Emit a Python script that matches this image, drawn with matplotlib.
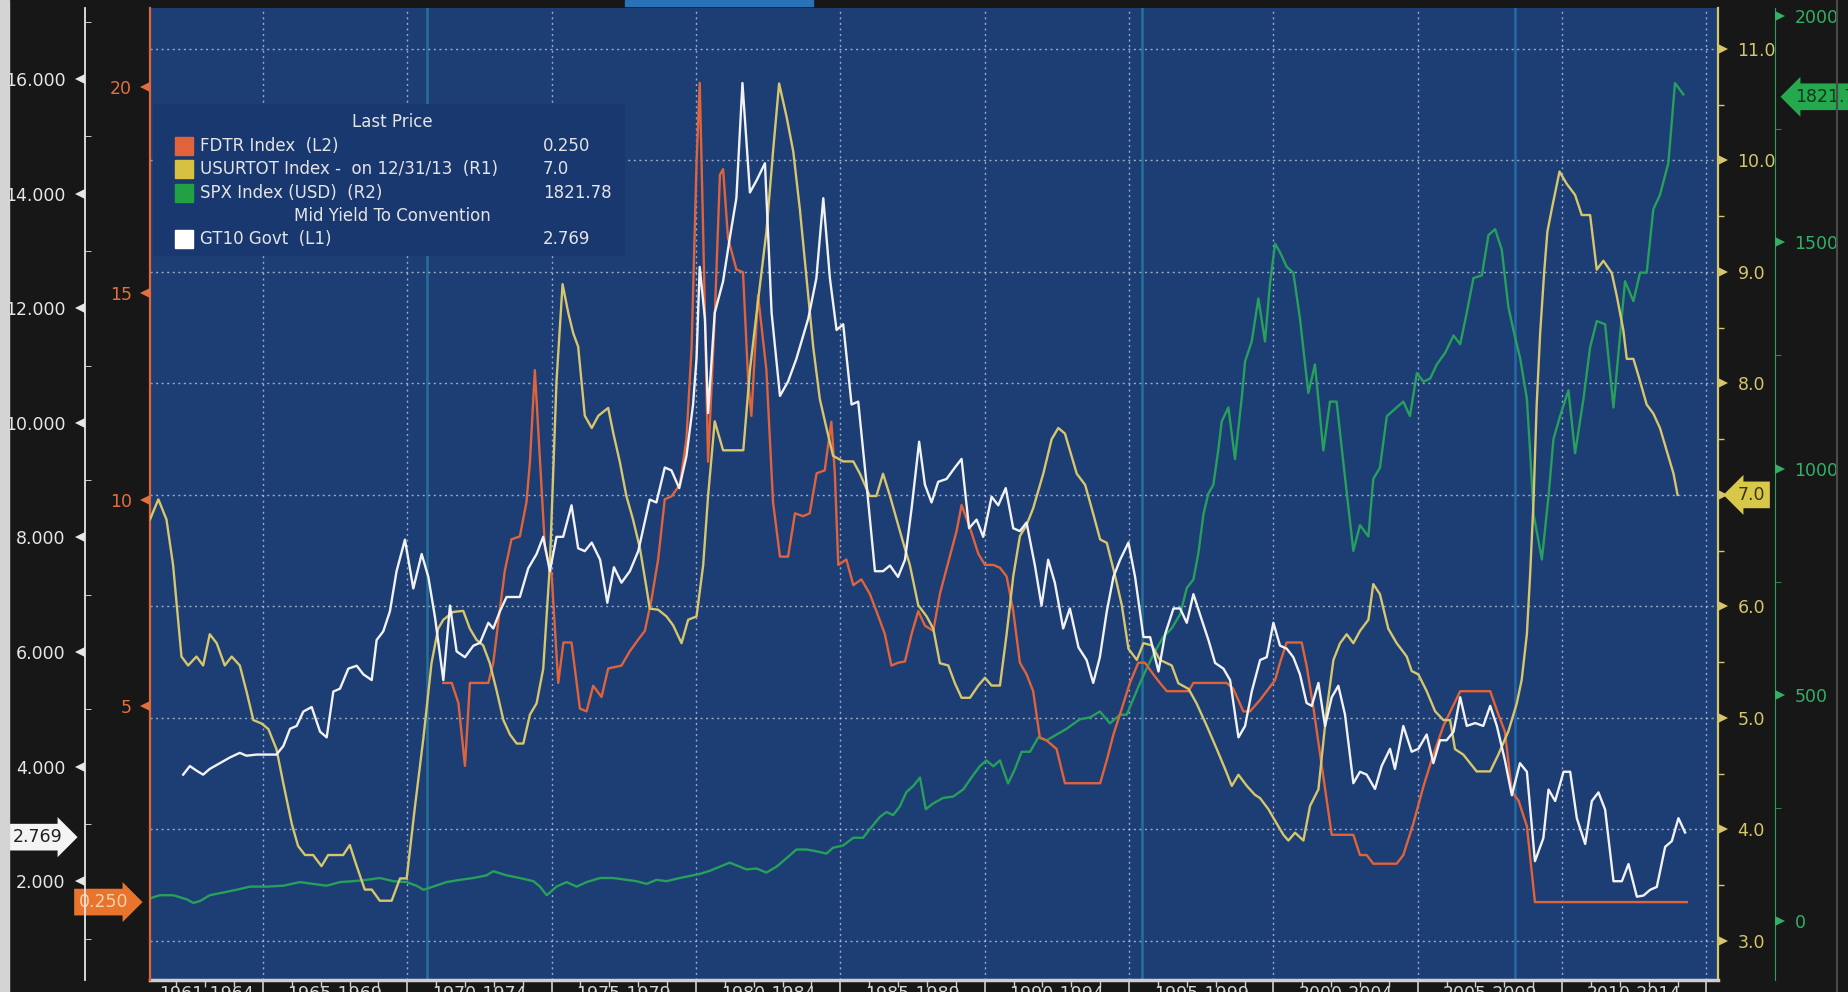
import matplotlib
matplotlib.use("Agg")
import matplotlib.pyplot as plt
from matplotlib.patches import Rectangle
from matplotlib.lines import Line2D
from matplotlib.transforms import blended_transform_factory as blend

# --- values (dates as decimal years) ---
fdtr_years = [1971.25, 1971.54, 1971.77, 1972.00, 1972.17, 1972.81, 1972.98, 1973.15, 1973.38, 1973.61,
              1973.90, 1974.13, 1974.25, 1974.42, 1974.60, 1974.77, 1975.00, 1975.23, 1975.41, 1975.69,
              1975.98, 1976.21, 1976.44, 1976.73, 1976.96, 1977.42, 1977.71, 1978.00, 1978.23, 1978.46,
              1978.69, 1978.92, 1979.15, 1979.44, 1979.67, 1979.85, 1980.02, 1980.13, 1980.25, 1980.42,
              1980.65, 1980.83, 1980.94, 1981.11, 1981.40, 1981.63, 1981.81, 1981.92, 1982.15, 1982.44,
              1982.67, 1982.91, 1983.19, 1983.43, 1983.71, 1983.94, 1984.18, 1984.46, 1984.69, 1984.81,
              1984.93, 1985.21, 1985.45, 1985.73, 1986.02, 1986.25, 1986.54, 1986.77, 1987.00, 1987.24,
              1987.47, 1987.70, 1987.93, 1988.22, 1988.45, 1988.74, 1989.03, 1989.20, 1989.49, 1989.78,
              1990.01, 1990.30, 1990.53, 1990.76, 1990.99, 1991.22, 1991.45, 1991.68, 1991.91, 1992.14,
              1992.49, 1992.78, 1994.00, 1994.23, 1994.46, 1994.75, 1995.03, 1995.32, 1995.55, 1995.84,
              1996.07, 1996.31, 1997.06, 1997.23, 1998.38, 1998.61, 1998.96, 1999.19, 1999.54, 1999.83,
              2000.06, 2000.23, 2000.46, 2000.98, 2001.15, 2001.39, 2001.62, 2001.85, 2002.02, 2002.77,
              2003.00, 2003.23, 2003.46, 2004.27, 2004.50, 2004.85, 2005.20, 2005.54, 2005.89, 2006.18,
              2006.47, 2007.51, 2007.79, 2008.02, 2008.26, 2008.49, 2008.78, 2009.06, 2014.32]
fdtr_rate = [5.56, 5.56, 5.08, 3.55, 5.56, 5.56, 6.05, 7.02, 8.28, 9.04,
             9.11, 9.94, 10.92, 13.14, 10.92, 8.83, 8.20, 5.56, 6.54, 6.54,
             4.94, 4.87, 5.49, 5.22, 5.91, 5.98, 6.33, 6.61, 6.82, 7.58,
             8.55, 10.01, 10.08, 10.36, 11.47, 13.70, 18.15, 20.10, 16.48, 10.92,
             14.40, 17.87, 18.01, 16.34, 15.58, 15.51, 12.87, 12.03, 14.95, 13.14,
             9.94, 8.62, 8.62, 9.67, 9.60, 9.67, 10.64, 10.71, 11.89, 10.64,
             8.42, 8.55, 7.93, 8.07, 7.72, 7.30, 6.75, 5.98, 6.05, 6.08,
             6.75, 7.30, 6.95, 6.82, 7.72, 8.49, 9.25, 9.87, 9.32, 8.69,
             8.42, 8.42, 8.35, 8.14, 7.30, 6.05, 5.77, 5.36, 4.24, 4.17,
             3.96, 3.13, 3.13, 3.69, 4.31, 4.94, 5.56, 6.05, 6.05, 5.77,
             5.56, 5.36, 5.36, 5.56, 5.56, 5.42, 4.87, 4.87, 5.15, 5.42,
             5.63, 6.05, 6.54, 6.54, 5.98, 4.94, 3.82, 2.71, 1.88, 1.88,
             1.39, 1.39, 1.18, 1.18, 1.39, 2.16, 3.06, 3.82, 4.52, 4.94,
             5.36, 5.36, 4.80, 4.38, 2.92, 2.71, 2.09, 0.25, 0.25]

unemp_years = [1961.09, 1961.38, 1961.66, 1961.89, 1962.18, 1962.41, 1962.70, 1962.93, 1963.16, 1963.40,
               1963.68, 1963.92, 1964.20, 1964.43, 1964.67, 1964.95, 1965.19, 1965.47, 1965.71, 1966.00,
               1966.22, 1966.46, 1966.74, 1967.03, 1967.26, 1967.55, 1967.78, 1968.01, 1968.25, 1968.53,
               1968.77, 1969.05, 1969.46, 1969.75, 1969.98, 1970.27, 1970.56, 1970.84, 1971.07, 1971.25,
               1971.59, 1971.94, 1972.17, 1972.40, 1972.63, 1972.86, 1973.10, 1973.33, 1973.56, 1973.79,
               1974.02, 1974.25, 1974.48, 1974.71, 1974.94, 1975.17, 1975.38, 1975.58, 1975.75, 1975.92,
               1976.15, 1976.39, 1976.62, 1976.96, 1977.14, 1977.36, 1977.59, 1977.82, 1978.06, 1978.29,
               1978.40, 1978.69, 1978.98, 1979.21, 1979.50, 1979.73, 1980.02, 1980.25, 1980.42, 1980.65,
               1980.94, 1981.23, 1981.64, 1981.87, 1982.15, 1982.44, 1982.67, 1982.88, 1983.14, 1983.37,
               1983.60, 1983.83, 1984.06, 1984.29, 1984.52, 1984.75, 1985.10, 1985.45, 1985.68, 1986.02,
               1986.25, 1986.48, 1986.72, 1986.95, 1987.18, 1987.41, 1987.70, 1987.99, 1988.22, 1988.45,
               1988.74, 1988.97, 1989.20, 1989.49, 1989.78, 1990.01, 1990.24, 1990.53, 1990.76, 1990.99,
               1991.22, 1991.45, 1991.68, 1992.03, 1992.32, 1992.55, 1992.78, 1993.19, 1993.48, 1993.76,
               1994.00, 1994.23, 1994.52, 1994.75, 1994.98, 1995.27, 1995.50, 1995.79, 1996.07, 1996.48,
               1996.71, 1997.06, 1997.34, 1997.69, 1998.04, 1998.33, 1998.56, 1998.79, 1999.08, 1999.36,
               1999.54, 1999.83, 2000.12, 2000.35, 2000.52, 2000.75, 2001.04, 2001.27, 2001.56, 2001.85,
               2002.08, 2002.31, 2002.54, 2002.77, 2003.00, 2003.29, 2003.46, 2003.69, 2003.98, 2004.27,
               2004.62, 2004.79, 2005.02, 2005.31, 2005.60, 2005.89, 2006.12, 2006.29, 2006.58, 2007.04,
               2007.51, 2007.79, 2008.14, 2008.43, 2008.60, 2008.78, 2008.89, 2009.01, 2009.12, 2009.24,
               2009.38, 2009.49, 2009.64, 2009.91, 2010.16, 2010.45, 2010.68, 2010.97, 2011.20, 2011.43,
               2011.72, 2011.89, 2012.12, 2012.24, 2012.47, 2012.70, 2012.93, 2013.16, 2013.39, 2013.62,
               2013.86, 2014.00]
unemp_rate = [6.78, 6.96, 6.78, 6.37, 5.55, 5.47, 5.55, 5.47, 5.75, 5.67,
              5.47, 5.55, 5.47, 5.24, 4.98, 4.95, 4.90, 4.72, 4.41, 4.05,
              3.85, 3.77, 3.77, 3.67, 3.77, 3.77, 3.77, 3.86, 3.67, 3.46,
              3.46, 3.36, 3.36, 3.56, 3.56, 4.21, 4.82, 5.49, 5.80, 5.88,
              5.95, 5.96, 5.80, 5.70, 5.65, 5.49, 5.24, 4.98, 4.85, 4.77,
              4.77, 5.03, 5.13, 5.44, 6.37, 8.02, 8.89, 8.63, 8.45, 8.33,
              7.71, 7.60, 7.71, 7.78, 7.55, 7.30, 6.99, 6.78, 6.52, 6.16,
              5.98, 5.97, 5.91, 5.83, 5.67, 5.88, 5.91, 6.37, 6.99, 7.66,
              7.40, 7.40, 7.40, 8.12, 8.74, 9.36, 10.08, 10.69, 10.39, 10.08,
              9.56, 8.94, 8.33, 7.86, 7.60, 7.35, 7.30, 7.30, 7.19, 6.99,
              6.99, 7.19, 6.99, 6.78, 6.57, 6.37, 6.01, 5.91, 5.80, 5.49,
              5.47, 5.31, 5.18, 5.18, 5.29, 5.36, 5.29, 5.29, 5.75, 6.27,
              6.63, 6.73, 6.88, 7.19, 7.50, 7.60, 7.55, 7.19, 7.09, 6.83,
              6.60, 6.57, 6.27, 6.01, 5.62, 5.52, 5.67, 5.65, 5.52, 5.47,
              5.31, 5.26, 5.13, 4.93, 4.72, 4.54, 4.39, 4.49, 4.39, 4.31,
              4.28, 4.18, 4.05, 3.95, 3.90, 3.97, 3.90, 4.21, 4.36, 5.08,
              5.52, 5.67, 5.75, 5.67, 5.78, 5.88, 6.20, 6.11, 5.80, 5.67,
              5.55, 5.42, 5.39, 5.24, 5.06, 4.98, 4.98, 4.72, 4.67, 4.52,
              4.52, 4.67, 4.88, 5.13, 5.34, 5.75, 6.27, 6.94, 7.81, 8.45,
              9.00, 9.36, 9.56, 9.90, 9.79, 9.69, 9.51, 9.51, 9.02, 9.10,
              8.99, 8.79, 8.48, 8.22, 8.22, 8.02, 7.81, 7.73, 7.60, 7.40,
              7.19, 7.00]

spx_years = [1961.09, 1961.43, 1961.89, 1962.36, 1962.59, 1962.82, 1963.16, 1963.63, 1964.09, 1964.55,
             1965.13, 1965.71, 1966.28, 1966.74, 1967.21, 1967.67, 1968.13, 1968.59, 1969.05, 1969.52,
             1969.98, 1970.32, 1970.56, 1970.90, 1971.36, 1971.83, 1972.29, 1972.75, 1972.98, 1973.44,
             1973.90, 1974.37, 1974.60, 1974.83, 1975.17, 1975.52, 1975.87, 1976.21, 1976.68, 1977.13,
             1977.59, 1977.94, 1978.29, 1978.63, 1978.98, 1979.44, 1979.90, 1980.13, 1980.48, 1980.83,
             1981.17, 1981.52, 1981.75, 1982.10, 1982.44, 1982.79, 1983.14, 1983.48, 1983.83, 1984.18,
             1984.52, 1984.75, 1985.10, 1985.45, 1985.79, 1986.02, 1986.37, 1986.60, 1986.83, 1987.06,
             1987.29, 1987.52, 1987.76, 1987.96, 1988.22, 1988.56, 1988.91, 1989.26, 1989.54, 1989.83,
             1990.06, 1990.30, 1990.53, 1990.81, 1991.05, 1991.28, 1991.57, 1991.86, 1992.14, 1992.49,
             1992.84, 1993.30, 1993.65, 1993.99, 1994.34, 1994.69, 1994.92, 1995.09, 1995.38, 1995.61,
             1995.90, 1996.19, 1996.48, 1996.77, 1997.00, 1997.23, 1997.40, 1997.58, 1997.75, 1997.92,
             1998.09, 1998.21, 1998.44, 1998.67, 1998.90, 1999.02, 1999.25, 1999.48, 1999.71, 1999.88,
             2000.06, 2000.23, 2000.46, 2000.69, 2000.92, 2001.21, 2001.44, 2001.73, 2001.96, 2002.19,
             2002.42, 2002.77, 2003.00, 2003.29, 2003.46, 2003.69, 2003.93, 2004.16, 2004.50, 2004.73,
             2004.97, 2005.20, 2005.43, 2005.66, 2005.95, 2006.24, 2006.47, 2006.70, 2006.93, 2007.22,
             2007.45, 2007.68, 2007.91, 2008.14, 2008.31, 2008.55, 2008.78, 2008.89, 2009.01, 2009.30,
             2009.53, 2009.70, 2009.93, 2010.22, 2010.45, 2010.74, 2010.97, 2011.20, 2011.49, 2011.78,
             2012.01, 2012.18, 2012.47, 2012.70, 2012.93, 2013.16, 2013.39, 2013.68, 2013.91, 2014.20]
spx_close = [50, 57, 57, 48, 40, 44, 57, 63, 69, 76,
             76, 78, 86, 82, 78, 86, 88, 91, 95, 88,
             86, 78, 69, 76, 86, 91, 95, 101, 110, 101,
             95, 88, 76, 57, 76, 86, 76, 86, 95, 95,
             91, 88, 82, 91, 88, 95, 101, 104, 111, 120,
             129, 120, 114, 116, 107, 120, 139, 158, 158, 154,
             149, 162, 167, 184, 184, 203, 230, 241, 234, 253,
             285, 298, 317, 247, 260, 272, 275, 291, 317, 342,
             355, 342, 355, 304, 336, 374, 374, 406, 399, 412,
             425, 446, 450, 463, 437, 456, 456, 482, 526, 558,
             596, 628, 647, 678, 736, 755, 812, 900, 945, 964,
             1040, 1104, 1135, 1021, 1154, 1237, 1281, 1376, 1281, 1408,
             1497, 1478, 1446, 1433, 1332, 1167, 1230, 1040, 1148, 1148,
             1015, 818, 875, 850, 977, 1002, 1116, 1129, 1148, 1116,
             1211, 1192, 1199, 1230, 1256, 1294, 1275, 1345, 1421, 1427,
             1516, 1529, 1484, 1357, 1307, 1243, 1154, 1040, 900, 799,
             939, 1065, 1116, 1173, 1034, 1154, 1268, 1326, 1319, 1135,
             1294, 1414, 1370, 1433, 1433, 1573, 1605, 1675, 1852, 1827]

gt10_years = [1962.24, 1962.47, 1962.70, 1962.93, 1963.16, 1963.51, 1963.86, 1964.20, 1964.43, 1964.78,
              1965.13, 1965.47, 1965.71, 1965.94, 1966.17, 1966.40, 1966.69, 1966.98, 1967.21, 1967.44,
              1967.67, 1967.96, 1968.25, 1968.48, 1968.77, 1968.94, 1969.17, 1969.40, 1969.63, 1969.92,
              1970.21, 1970.50, 1970.73, 1970.96, 1971.25, 1971.48, 1971.71, 1972.00, 1972.29, 1972.52,
              1972.81, 1972.98, 1973.21, 1973.44, 1973.90, 1974.19, 1974.48, 1974.71, 1974.94, 1975.17,
              1975.40, 1975.69, 1975.92, 1976.15, 1976.39, 1976.68, 1976.93, 1977.16, 1977.42, 1977.71,
              1978.00, 1978.40, 1978.63, 1978.92, 1979.15, 1979.42, 1979.67, 1979.90, 1980.02, 1980.13,
              1980.31, 1980.42, 1980.65, 1980.94, 1981.17, 1981.40, 1981.61, 1981.87, 1982.10, 1982.39,
              1982.62, 1982.91, 1983.19, 1983.48, 1983.89, 1984.17, 1984.41, 1984.64, 1984.87, 1985.10,
              1985.39, 1985.62, 1985.91, 1986.20, 1986.48, 1986.72, 1987.00, 1987.24, 1987.47, 1987.73,
              1987.93, 1988.16, 1988.39, 1988.68, 1988.97, 1989.20, 1989.46, 1989.72, 1989.95, 1990.24,
              1990.47, 1990.73, 1990.99, 1991.22, 1991.45, 1991.74, 1991.97, 1992.20, 1992.43, 1992.72,
              1992.95, 1993.25, 1993.53, 1993.76, 1993.99, 1994.23, 1994.46, 1994.69, 1994.98, 1995.21,
              1995.50, 1995.73, 1996.02, 1996.25, 1996.54, 1996.77, 1997.00, 1997.23, 1997.52, 1997.75,
              1997.98, 1998.27, 1998.50, 1998.79, 1999.02, 1999.25, 1999.54, 1999.77, 2000.00, 2000.23,
              2000.46, 2000.69, 2000.92, 2001.15, 2001.33, 2001.56, 2001.79, 2002.02, 2002.25, 2002.48,
              2002.77, 2003.00, 2003.23, 2003.52, 2003.75, 2004.04, 2004.21, 2004.50, 2004.79, 2005.02,
              2005.31, 2005.54, 2005.77, 2006.00, 2006.24, 2006.47, 2006.70, 2006.99, 2007.27, 2007.51,
              2007.74, 2008.02, 2008.26, 2008.54, 2008.78, 2009.06, 2009.35, 2009.53, 2009.76, 2010.05,
              2010.28, 2010.51, 2010.80, 2011.03, 2011.26, 2011.49, 2011.78, 2012.07, 2012.30, 2012.59,
              2012.82, 2013.05, 2013.28, 2013.57, 2013.80, 2014.03, 2014.26]
gt10_yield = [3.86, 4.01, 3.93, 3.86, 3.96, 4.06, 4.16, 4.24, 4.19, 4.21,
              4.21, 4.21, 4.36, 4.66, 4.71, 4.96, 5.04, 4.61, 4.51, 5.31,
              5.36, 5.71, 5.76, 5.61, 5.51, 6.21, 6.36, 6.71, 7.41, 7.96,
              7.11, 7.71, 7.31, 6.61, 5.51, 6.81, 6.01, 5.91, 6.11, 6.16,
              6.51, 6.41, 6.71, 6.96, 6.96, 7.46, 7.71, 8.01, 7.41, 8.01,
              8.01, 8.56, 7.81, 7.76, 7.91, 7.61, 6.86, 7.48, 7.21, 7.41,
              7.76, 8.66, 8.61, 9.22, 9.17, 8.86, 9.42, 10.32, 11.12, 12.72,
              11.82, 10.17, 11.92, 12.47, 13.22, 13.92, 15.93, 14.02, 14.23, 14.53,
              11.92, 10.47, 10.72, 11.12, 11.82, 12.52, 13.92, 12.52, 11.62, 11.72,
              10.32, 10.37, 8.92, 7.41, 7.41, 7.51, 7.31, 7.61, 8.51, 9.67,
              8.92, 8.61, 8.97, 9.02, 9.22, 9.37, 8.16, 8.31, 8.01, 8.71,
              8.56, 8.86, 8.16, 8.11, 8.26, 7.51, 6.81, 7.61, 7.21, 6.41,
              6.76, 6.08, 5.86, 5.46, 5.91, 6.71, 7.31, 7.61, 7.91, 7.31,
              6.26, 6.26, 5.66, 6.31, 6.76, 6.76, 6.51, 7.01, 6.56, 6.21,
              5.81, 5.71, 5.51, 4.51, 4.71, 5.31, 5.86, 5.91, 6.51, 6.11,
              6.06, 5.91, 5.61, 5.11, 5.06, 5.46, 4.71, 5.21, 5.41, 4.91,
              3.71, 3.91, 3.86, 3.61, 4.01, 4.31, 3.96, 4.71, 4.26, 4.31,
              4.56, 4.06, 4.46, 4.46, 4.61, 5.21, 4.71, 4.76, 4.71, 5.06,
              4.71, 4.11, 3.50, 4.06, 3.91, 2.35, 2.75, 3.60, 3.40, 3.91,
              3.91, 3.10, 2.65, 3.40, 3.55, 3.25, 2.00, 2.00, 2.30, 1.73,
              1.75, 1.85, 1.90, 2.60, 2.70, 3.10, 2.85]

bin_labels = ['1961-1964', '1965-1969', '1970-1974', '1975-1979', '1980-1984', '1985-1989',
              '1990-1994', '1995-1999', '2000-2004', '2005-2009', '2010-2014']
bin_edges = [1965, 1970, 1975, 1980, 1985, 1990, 1995, 2000, 2005, 2010, 2015]

last_fdtr, last_unemp, last_spx, last_gt10 = 0.250, 7.0, 1821.78, 2.769

W, H = 1849, 992
NAVY = '#1d3d75'
ORANGE = '#e0633a'
YELLOW = '#d6c66c'
GREEN = '#26a05a'
WHITE = '#f2f2f2'


def fx(x):
    return x / W


def fy(y):
    return 1 - y / H


fig = plt.figure(figsize=(W / 100, H / 100), dpi=100, facecolor='#171717')

# scan border on the far left and the tab on top of the screen
fig.add_artist(Rectangle((0, 0), fx(9), 1, transform=fig.transFigure, color='#d4d4d4'))
fig.add_artist(Rectangle((fx(625), fy(6)), fx(188), fx(6) * W / H, transform=fig.transFigure, color='#2a72b8'))
fig.add_artist(Line2D([fx(1837)] * 2, [0, 1], transform=fig.transFigure, color='#4a4a4a', lw=1.5))

ax = fig.add_axes([fx(150), fy(980), (1718 - 150) / W, (980 - 8) / H], facecolor=NAVY)
ax.set_xlim(1961.09, 2015.40)
ax.set_ylim(2.649, 11.367)

for s in ['top', 'left']:
    ax.spines[s].set_visible(False)
ax.spines['bottom'].set_color('#cfcfcf')
ax.spines['bottom'].set_linewidth(2.5)
ax.spines['right'].set_color(YELLOW)
ax.spines['right'].set_linewidth(1.6)

ax.set_xticks(bin_edges)
ax.set_xticks(range(1962, 2016), minor=True)
ax.tick_params(axis='x', which='major', length=12, width=1.2, color='#d0d0d0', labelbottom=False)
ax.tick_params(axis='x', which='minor', length=5, width=1, color='#d0d0d0')
ax.grid(True, which='major', color='#c4d0e4', ls=(0, (1.5, 2.5)), lw=1.0, alpha=0.75)
ax.set_axisbelow(True)

# faint coloured scan streaks
for xv, c in [(1970.68, '#2f9bb0'), (1995.45, '#2f9bb0'), (2008.37, '#2f8fd0')]:
    ax.axvline(xv, color=c, lw=1.8, alpha=0.55, zorder=0.6)

# legend panel
ax.add_patch(Rectangle((fx(153), fy(256)), (625 - 153) / W, (256 - 104) / H,
                       transform=fig.transFigure, fc='#1a3870', ec='none', zorder=1))

for xb, lab in zip([1963.05] + [e + 2.5 for e in bin_edges[:-1]], bin_labels):
    ax.text(xb, -0.005, lab, transform=blend(ax.transData, ax.transAxes), ha='center', va='top',
            fontsize=12.5, color='#d6d6d6', clip_on=False)


def twin():
    t = ax.twinx()
    for s in t.spines.values():
        s.set_visible(False)
    return t


def tri(a, xa, vals, marker, color):
    a.plot([xa] * len(vals), vals, ls='none', marker=marker, ms=7, mew=0, color=color,
           transform=blend(a.transAxes, a.transData), clip_on=False, zorder=6)


def tag(a, xa, val, text, fc, tc, point):
    style = 'rarrow,pad=0.25' if point == 'right' else 'larrow,pad=0.25'
    a.text(xa, val, text, transform=blend(a.transAxes, a.transData),
           ha='right' if point == 'right' else 'left', va='center', fontsize=12.5, color=tc,
           bbox=dict(boxstyle=style, fc=fc, ec='none'), clip_on=False, zorder=10)


L1_POS = -65 / 1568
R2_POS = 1 + 57 / 1568
PX = 1 / 1568

# SPX (R2)
ax_spx = twin()
ax_spx.set_ylim(-130.4, 2018)
ax_spx.plot(spx_years, spx_close, color=GREEN, lw=1.7)
ax_spx.spines['right'].set_visible(True)
ax_spx.spines['right'].set_position(('axes', R2_POS))
ax_spx.spines['right'].set_color(GREEN)
r2_ticks = [0, 500, 1000, 1500, 2000]
ax_spx.set_yticks(r2_ticks, [str(v) for v in r2_ticks])
ax_spx.set_yticks([250, 750, 1250, 1750], minor=True)
ax_spx.tick_params(axis='y', which='major', length=0, pad=14, labelsize=12.5, labelcolor='#33b066')
ax_spx.tick_params(axis='y', which='minor', length=4, color=GREEN)
tri(ax_spx, R2_POS + 5 * PX, r2_ticks, '>', '#33b066')

# FDTR (L2); the 0 label sits under the last-value tag
ax_fed = twin()
ax_fed.set_ylim(-1.638, 21.914)
ax_fed.plot(fdtr_years, fdtr_rate, color=ORANGE, lw=1.7)
ax_fed.yaxis.tick_left()
ax_fed.spines['left'].set_visible(True)
ax_fed.spines['left'].set_color(ORANGE)
ax_fed.spines['left'].set_linewidth(1.6)
l2_ticks = [5, 10, 15, 20]
ax_fed.set_yticks(l2_ticks, [str(v) for v in l2_ticks])
ax_fed.tick_params(axis='y', which='major', length=0, pad=13, labelsize=12.5, labelcolor='#e2703e')
tri(ax_fed, -5 * PX, l2_ticks, '<', '#e2703e')

# USURTOT (R1, shares the host scale)
ax_un = twin()
ax_un.set_ylim(ax.get_ylim())
ax_un.plot(unemp_years, unemp_rate, color=YELLOW, lw=1.7)
ax_un.set_yticks([])
tri(ax_un, 1 + 5 * PX, [3, 4, 5, 6, 7, 8, 9, 10, 11], '>', YELLOW)

# GT10 (L1)
ax_gt = twin()
ax_gt.set_ylim(0.276, 17.239)
ax_gt.plot(gt10_years, gt10_yield, color=WHITE, lw=1.7)
ax_gt.yaxis.tick_left()
ax_gt.spines['left'].set_visible(True)
ax_gt.spines['left'].set_position(('axes', L1_POS))
ax_gt.spines['left'].set_color('#e6e6e6')
ax_gt.spines['left'].set_linewidth(1.3)
l1_ticks = [2, 4, 6, 8, 10, 12, 14, 16]
ax_gt.set_yticks(l1_ticks, ['%.3f' % v for v in l1_ticks])
ax_gt.set_yticks([1, 3, 5, 7, 9, 11, 13, 15, 17], minor=True)
ax_gt.tick_params(axis='y', which='major', length=0, pad=14, labelsize=12.5, labelcolor='#e6e6e6')
ax_gt.tick_params(axis='y', which='minor', length=4, direction='in', color='#e6e6e6')
tri(ax_gt, L1_POS - 5 * PX, l1_ticks, '<', '#e6e6e6')

# host y axis (R1) goes to the right; twinx moved it left, so set it after
r1_ticks = [3, 4, 5, 6, 7, 8, 9, 10, 11]
ax.yaxis.tick_right()
ax.set_yticks(r1_ticks, ['%.1f' % v for v in r1_ticks])
ax.set_yticks([v + 0.5 for v in r1_ticks[:-1]], minor=True)
ax.tick_params(axis='y', which='major', length=0, pad=14, labelsize=12.5, labelcolor=YELLOW,
               left=False, labelleft=False, right=True, labelright=True)
ax.tick_params(axis='y', which='minor', length=4, width=1, color=YELLOW, left=False, right=True)

# last-value tags on the axes
tag(ax_gt, L1_POS - 22 * PX, last_gt10, '%.3f' % last_gt10, '#f4f4f4', '#202020', 'right')
tag(ax_fed, -22 * PX, last_fdtr, '%.3f' % last_fdtr, '#e8742e', '#f8d2a8', 'right')
tag(ax_un, 1 + 20 * PX, last_unemp, '%.1f' % last_unemp, '#d8c84a', '#3a3414', 'left')
tag(ax_spx, R2_POS + 20 * PX, last_spx, '%.2f' % last_spx, '#26a84e', '#0c3a1c', 'left')

# legend block
legend_rows = [
    (146, ORANGE, 'FDTR Index  (L2)', '%.3f' % last_fdtr),
    (169, '#d8c040', 'USURTOT Index -  on 12/31/13  (R1)', '%.1f' % last_unemp),
    (193, '#22a044', 'SPX Index (USD)  (R2)', '%.2f' % last_spx),
    (239, '#ffffff', 'GT10 Govt  (L1)', '%.3f' % last_gt10),
]
fig.text(fx(392), fy(122), 'Last Price', ha='center', va='center', fontsize=12, color='#e4e4e4')
fig.text(fx(392), fy(216), 'Mid Yield To Convention', ha='center', va='center', fontsize=12, color='#e4e4e4')
for yy, col, name, val in legend_rows:
    fig.add_artist(Rectangle((fx(175), fy(yy + 9)), 18 / W, 18 / H, transform=fig.transFigure, color=col))
    fig.text(fx(200), fy(yy), name, ha='left', va='center', fontsize=12, color='#e4e4e4')
    fig.text(fx(543), fy(yy), val, ha='left', va='center', fontsize=12, color='#e4e4e4')

fig.savefig('out.png', dpi=100, facecolor=fig.get_facecolor())
